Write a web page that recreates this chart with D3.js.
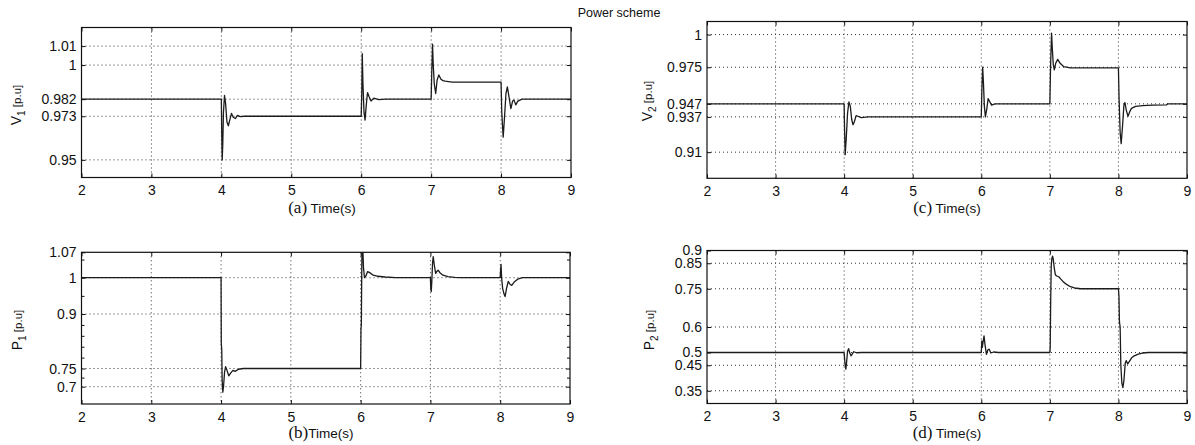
<!DOCTYPE html>
<html>
<head>
<meta charset="utf-8">
<script src="https://cdn.jsdelivr.net/npm/d3@7"></script>
<style>
  body { margin: 0; background: #fff; }
  text { font-family: "Liberation Sans", Arial, sans-serif; fill: #111; }
</style>
</head>
<body>
<svg id="chart" width="1195" height="445"></svg>
<script>
// ---- data ----------------------------------------------------------------
const timeTicks = [2, 3, 4, 5, 6, 7, 8, 9];

const v1Ticks = [0.95, 0.973, 0.982, 1, 1.01];
const p1Ticks = [0.7, 0.75, 0.9, 1, 1.07];
const p1MinorTicks = [0.725, 0.78, 0.81, 0.84, 0.87, 0.95, 1.05];
const v2Ticks = [0.91, 0.937, 0.947, 0.975, 1];
const p2Ticks = [0.35, 0.45, 0.5, 0.6, 0.75, 0.85, 0.9];

// bus 1 voltage [p.u] vs time [s]
const v1Series = [
  [2, 0.982], [4.0, 0.982], [4.005, 0.965], [4.012, 0.95], [4.02, 0.958], [4.03, 0.975],
  [4.045, 0.984], [4.06, 0.98], [4.08, 0.97], [4.1, 0.968], [4.12, 0.971], [4.145, 0.9745],
  [4.17, 0.9725], [4.2, 0.9718], [4.23, 0.9735], [4.27, 0.9728], [4.33, 0.973],
  [6.0, 0.973], [6.008, 0.985], [6.015, 1.006], [6.025, 0.99], [6.04, 0.975], [6.055, 0.971],
  [6.07, 0.978], [6.09, 0.9855], [6.11, 0.9835], [6.14, 0.981], [6.18, 0.9825], [6.25, 0.9818],
  [6.35, 0.982],
  [7.0, 0.982], [7.01, 0.998], [7.02, 1.011], [7.03, 1.0], [7.045, 0.99], [7.065, 0.985],
  [7.085, 0.992], [7.11, 0.9948], [7.14, 0.9925], [7.17, 0.9918], [7.2, 0.9915], [7.3, 0.991],
  [8.0, 0.991], [8.01, 0.975], [8.03, 0.962], [8.045, 0.97], [8.07, 0.985], [8.09, 0.9885],
  [8.11, 0.984], [8.14, 0.977], [8.165, 0.981], [8.185, 0.9815], [8.21, 0.979], [8.24, 0.981],
  [8.3, 0.982], [9, 0.982]
];

// bus 1 power [p.u]
const p1Series = [
  [2, 1.0], [4.0, 1.0], [4.003, 0.82], [4.01, 0.8], [4.015, 0.72], [4.025, 0.685], [4.035, 0.7],
  [4.05, 0.74], [4.065, 0.755], [4.085, 0.745], [4.11, 0.73], [4.14, 0.738], [4.17, 0.745],
  [4.2, 0.742], [4.25, 0.748], [4.32, 0.75],
  [6.0, 0.75], [6.005, 0.86], [6.01, 0.87], [6.015, 1.0], [6.02, 1.09], [6.03, 1.09], [6.04, 1.03],
  [6.055, 1.0], [6.075, 1.005], [6.1, 1.017], [6.13, 1.014], [6.18, 1.007], [6.25, 1.004],
  [6.35, 1.002], [6.5, 1.0],
  [7.0, 1.0], [7.005, 0.97], [7.012, 0.962], [7.02, 0.99], [7.03, 1.04], [7.04, 1.058],
  [7.055, 1.035], [7.075, 1.012], [7.095, 1.018], [7.11, 1.021], [7.14, 1.013], [7.18, 1.007],
  [7.25, 1.003], [7.35, 1.001], [7.42, 1.0],
  [8.0, 1.0], [8.005, 1.02], [8.012, 1.037], [8.02, 1.0], [8.035, 0.97], [8.055, 0.955],
  [8.07, 0.948], [8.09, 0.97], [8.115, 0.99], [8.14, 0.982], [8.165, 0.979], [8.2, 0.988],
  [8.25, 0.996], [8.32, 1.0], [9, 1.0]
];

// bus 2 voltage [p.u]
const v2Series = [
  [2, 0.947], [4.0, 0.947], [4.005, 0.93], [4.015, 0.908], [4.03, 0.92], [4.05, 0.94],
  [4.07, 0.9485], [4.09, 0.945], [4.11, 0.935], [4.13, 0.931], [4.15, 0.9335], [4.175, 0.938],
  [4.2, 0.9375], [4.25, 0.9365], [4.35, 0.937],
  [6.0, 0.937], [6.01, 0.96], [6.02, 0.975], [6.03, 0.965], [6.045, 0.945], [6.06, 0.937],
  [6.08, 0.943], [6.1, 0.951], [6.12, 0.949], [6.15, 0.946], [6.2, 0.947],
  [7.0, 0.947], [7.01, 0.975], [7.025, 1.001], [7.035, 0.99], [7.05, 0.977], [7.065, 0.973],
  [7.085, 0.978], [7.115, 0.981], [7.15, 0.978], [7.2, 0.9755], [7.3, 0.9745],
  [8.0, 0.9745], [8.01, 0.95], [8.025, 0.925], [8.04, 0.9165], [8.06, 0.93], [8.08, 0.946],
  [8.095, 0.948], [8.115, 0.942], [8.14, 0.9375], [8.165, 0.941], [8.19, 0.9435], [8.25, 0.945],
  [8.35, 0.9456], [8.5, 0.946], [8.7, 0.9462], [8.72, 0.947], [9, 0.947]
];

// bus 2 power [p.u]
const p2Series = [
  [2, 0.5], [4.0, 0.5], [4.005, 0.48], [4.015, 0.45], [4.025, 0.435], [4.035, 0.46],
  [4.05, 0.505], [4.065, 0.515], [4.08, 0.5], [4.1, 0.487], [4.12, 0.495], [4.14, 0.503],
  [4.18, 0.499], [4.26, 0.5],
  [6.0, 0.5], [6.008, 0.545], [6.015, 0.52], [6.025, 0.54], [6.04, 0.565], [6.055, 0.53],
  [6.075, 0.493], [6.095, 0.51], [6.115, 0.513], [6.14, 0.498], [6.18, 0.502], [6.25, 0.5],
  [7.0, 0.5], [7.005, 0.52], [7.012, 0.7], [7.02, 0.84], [7.03, 0.87], [7.04, 0.878],
  [7.05, 0.865], [7.065, 0.83], [7.08, 0.805], [7.1, 0.8], [7.13, 0.797], [7.16, 0.788],
  [7.2, 0.776], [7.25, 0.766], [7.3, 0.758], [7.36, 0.753], [7.45, 0.75],
  [8.0, 0.75], [8.008, 0.72], [8.015, 0.62], [8.025, 0.6], [8.035, 0.45], [8.05, 0.38],
  [8.065, 0.362], [8.08, 0.39], [8.1, 0.46], [8.115, 0.468], [8.135, 0.455], [8.16, 0.465],
  [8.19, 0.478], [8.23, 0.487], [8.29, 0.494], [8.35, 0.498], [8.44, 0.5], [9, 0.5]
];

// ---- panel layout ----------------------------------------------------------
const panels = [
  { id: "a", series: v1Series, ticks: v1Ticks, minor: [], yDomain: [0.9407, 1.0198],
    box: { l: 81.5, r: 571, t: 27.5, b: 177.5 }, sym: "V", sub: "1",
    yLabelX: 21, yLabelY: 105, capY: 213, capX: 322 },
  { id: "b", series: p1Series, ticks: p1Ticks, minor: p1MinorTicks, yDomain: [0.6523, 1.07],
    box: { l: 81.5, r: 570, t: 252.3, b: 404 }, sym: "P", sub: "1",
    yLabelX: 22, yLabelY: 330, capY: 438, capX: 321 },
  { id: "c", series: v2Series, ticks: v2Ticks, minor: [], yDomain: [0.89, 1.01],
    box: { l: 707, r: 1187, t: 21.5, b: 178.3 }, sym: "V", sub: "2",
    yLabelX: 652, yLabelY: 101, capY: 213, capX: 947 },
  { id: "d", series: p2Series, ticks: p2Ticks, minor: [], yDomain: [0.3, 0.9],
    box: { l: 707, r: 1187, t: 250.5, b: 403.5 }, sym: "P", sub: "2",
    yLabelX: 654, yLabelY: 330, capY: 438, capX: 947 }
];

const svg = d3.select("#chart");
svg.append("rect").attr("width", 1195).attr("height", 445).attr("fill", "#fff");

svg.append("text")
  .attr("x", 619).attr("y", 17)
  .attr("text-anchor", "middle")
  .style("font-size", "12.5px")
  .text("Power scheme");

const TICK = 4;

panels.forEach(p => {
  const { l, r, t, b } = p.box;
  const x = d3.scaleLinear().domain([2, 9]).range([l, r]);
  const y = d3.scaleLinear().domain(p.yDomain).range([b, t]);
  const g = svg.append("g");

  // dotted grid
  const grid = g.append("g")
    .attr("stroke", "#333").attr("stroke-width", 1)
    .attr("stroke-dasharray", "1,3");
  grid.selectAll("line.vx")
    .data(timeTicks.filter(v => v > 2 && v < 9))
    .join("line")
    .attr("x1", d => x(d)).attr("x2", d => x(d))
    .attr("y1", t).attr("y2", b);
  grid.selectAll("line.hy")
    .data(p.ticks.filter(v => y(v) > t + 0.5 && y(v) < b - 0.5))
    .join("line")
    .attr("x1", l).attr("x2", r)
    .attr("y1", d => y(d)).attr("y2", d => y(d));

  // clipped response trace
  const clipId = "clip-" + p.id;
  svg.append("clipPath").attr("id", clipId)
    .append("rect").attr("x", l).attr("y", t).attr("width", r - l).attr("height", b - t);
  const line = d3.line().x(d => x(d[0])).y(d => y(d[1]));
  g.append("path")
    .datum(p.series)
    .attr("clip-path", `url(#${clipId})`)
    .attr("fill", "none")
    .attr("stroke", "#1c1c1c")
    .attr("stroke-width", 1.3)
    .attr("stroke-linejoin", "round")
    .attr("d", line);

  // axes with inward ticks on all four sides
  const styleAxis = sel => {
    sel.select(".domain").remove();
    sel.selectAll(".tick line").attr("stroke", "#111");
    sel.selectAll(".tick text").style("font-size", "14px")
      .attr("fill", "#111")
      .style("font-family", '"Liberation Sans", Arial, sans-serif');
  };
  g.append("g").attr("transform", `translate(0,${b})`)
    .call(d3.axisBottom(x).tickValues(timeTicks).tickSizeInner(-TICK).tickSizeOuter(0)
      .tickPadding(8).tickFormat(d3.format("d")))
    .call(styleAxis);
  g.append("g").attr("transform", `translate(0,${t})`)
    .call(d3.axisTop(x).tickValues(timeTicks).tickSizeInner(-TICK).tickSizeOuter(0).tickFormat(""))
    .call(styleAxis);
  g.append("g").attr("transform", `translate(${l},0)`)
    .call(d3.axisLeft(y).tickValues(p.ticks).tickSizeInner(-TICK).tickSizeOuter(0)
      .tickPadding(5).tickFormat(d => String(d)))
    .call(styleAxis);
  g.append("g").attr("transform", `translate(${r},0)`)
    .call(d3.axisRight(y).tickValues(p.ticks).tickSizeInner(-TICK).tickSizeOuter(0).tickFormat(""))
    .call(styleAxis);
  if (p.minor.length) {
    g.append("g").attr("transform", `translate(${l},0)`)
      .call(d3.axisLeft(y).tickValues(p.minor).tickSizeInner(-3).tickSizeOuter(0).tickFormat(""))
      .call(styleAxis);
    g.append("g").attr("transform", `translate(${r},0)`)
      .call(d3.axisRight(y).tickValues(p.minor).tickSizeInner(-3).tickSizeOuter(0).tickFormat(""))
      .call(styleAxis);
  }

  // frame
  g.append("rect")
    .attr("x", l).attr("y", t).attr("width", r - l).attr("height", b - t)
    .attr("fill", "none").attr("stroke", "#111").attr("stroke-width", 1.2);

  // y label with subscript
  const yl = g.append("text")
    .attr("transform", `translate(${p.yLabelX},${p.yLabelY}) rotate(-90)`)
    .attr("text-anchor", "middle");
  yl.append("tspan").style("font-size", "14px").text(p.sym);
  yl.append("tspan").style("font-size", "10px").attr("dy", 4).text(p.sub);
  yl.append("tspan").style("font-size", "11.5px").attr("dy", -4).text(" [p.u]");

  // caption under the time axis
  const cap = g.append("text")
    .attr("x", p.capX).attr("y", p.capY)
    .attr("text-anchor", "middle");
  cap.append("tspan")
    .style("font-family", '"Liberation Serif", "Times New Roman", serif')
    .style("font-size", "17px")
    .text(`(${p.id})`);
  cap.append("tspan").style("font-size", "13.5px").text(p.id === "b" ? "Time(s)" : " Time(s)");
});
</script>
</body>
</html>
